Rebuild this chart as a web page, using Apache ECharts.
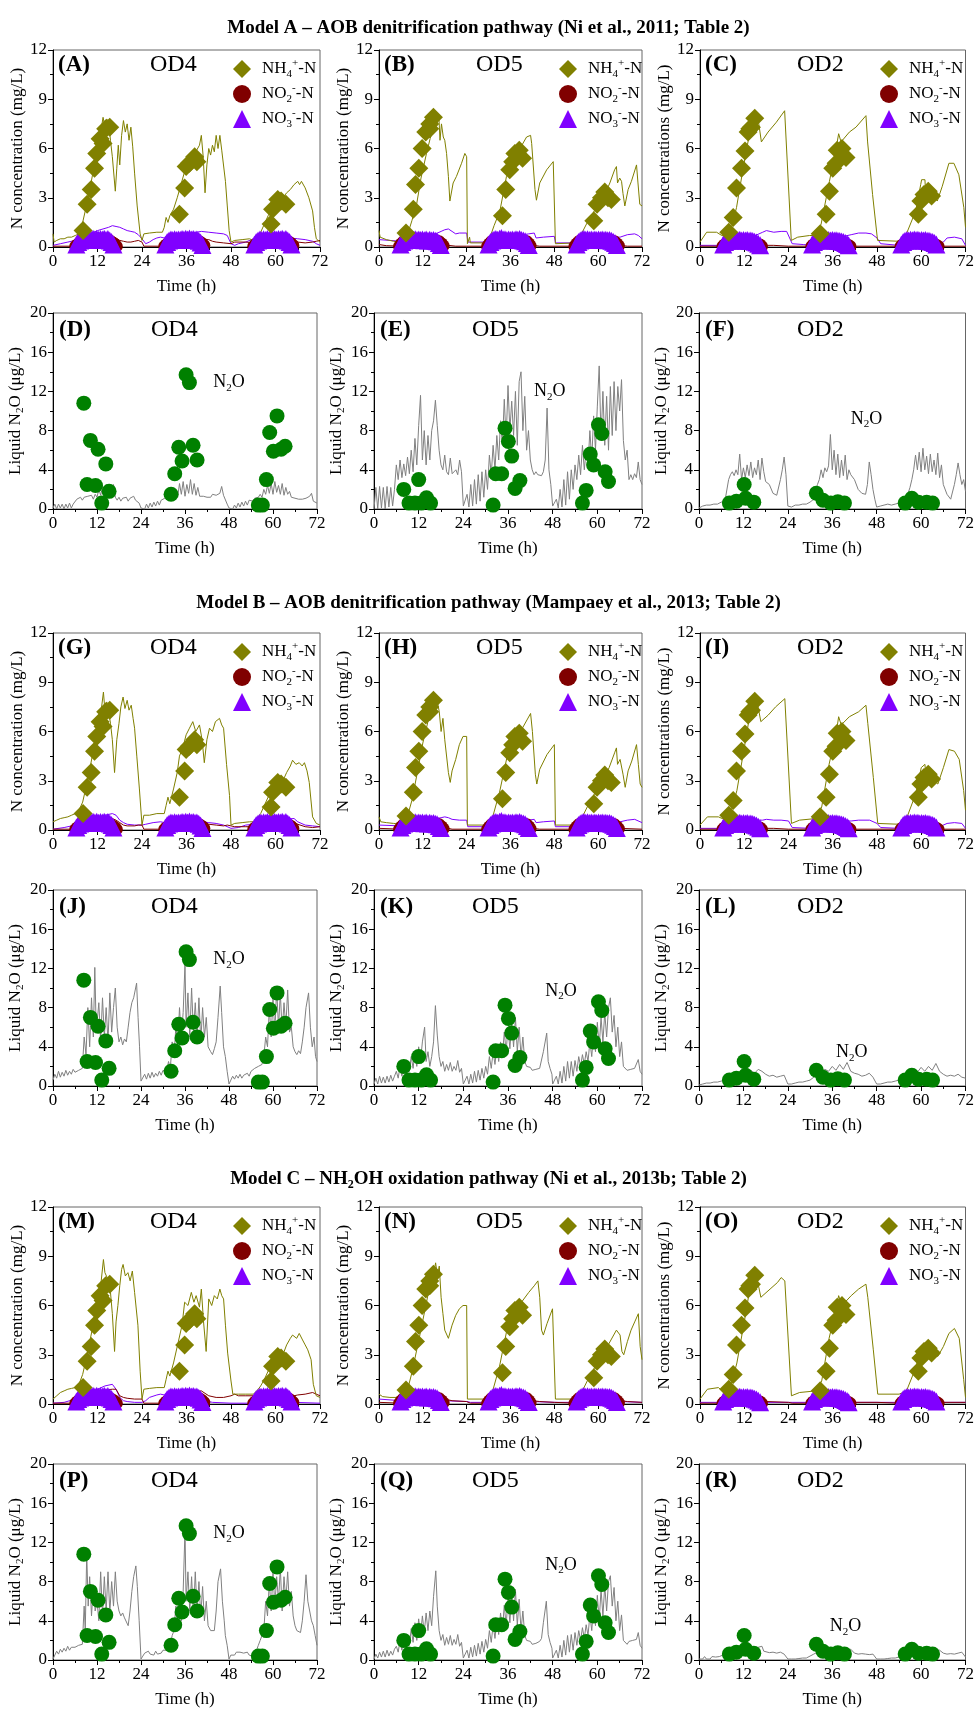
<!DOCTYPE html>
<html>
<head>
<meta charset="utf-8">
<script src="https://cdn.jsdelivr.net/npm/echarts@6/dist/echarts.min.js"></script>
<style>
  html, body { margin: 0; padding: 0; background: #fff; }
  #charts { width: 977px; height: 1709px; }
</style>
</head>
<body>
<div id="charts"></div>
<script>
// ---- measured data (flat t,v pairs), shared by all three models ----
const nh4Meas_OD4 = [8.1,1.0, 9.2,2.6, 10.3,3.5, 11.2,4.8, 11.8,5.7, 12.7,6.6, 13.5,6.3, 14.2,7.2, 15.3,7.3,
  34.1,2.0, 35.5,3.6, 35.9,4.9, 36.8,5.1, 38.2,5.5, 38.8,5.2,
  58.8,1.4, 59.2,2.3, 60.6,2.9, 61.5,2.8, 62.8,2.6];
const nh4Meas_OD5 = [7.4,0.85, 9.4,2.3, 10.0,3.8, 10.9,4.8, 11.8,6.0, 12.8,7.0, 13.9,7.2, 13.9,7.5, 14.9,7.9,
  33.8,1.9, 34.7,3.5, 35.8,4.7, 36.6,5.2, 37.2,5.7, 38.4,5.9, 39.3,5.4,
  58.8,1.6, 59.7,2.6, 60.9,3.0, 61.8,3.35, 62.7,3.0, 63.6,2.9];
const nh4Meas_OD2 = [7.8,0.9, 9.0,1.8, 9.9,3.6, 11.25,4.8, 12.2,5.85, 13.05,7.0, 13.5,7.2, 13.95,7.3, 14.85,7.85,
  32.6,0.8, 34.2,2.0, 35.1,3.4, 36.0,4.8, 36.9,5.1, 37.2,5.9, 38.5,6.0, 39.6,5.45,
  59.2,2.0, 59.9,2.8, 60.75,3.2, 61.9,3.4, 62.8,3.1];

const no3Meas_OD4 = [6.3,0.15, 6.8,0.3, 7.3,0.4, 7.8,0.45, 8.3,0.42, 8.8,0.47, 9.3,0.43, 9.8,0.48, 10.3,0.44, 10.8,0.5, 11.3,0.45, 11.8,0.5, 12.3,0.44, 12.8,0.49, 13.3,0.45, 13.8,0.5, 14.3,0.44, 14.8,0.48, 15.3,0.4, 15.8,0.3, 16.3,0.15,
  30.3,0.15, 30.8,0.3, 31.3,0.4, 31.8,0.45, 32.3,0.42, 32.8,0.47, 33.3,0.43, 33.8,0.45, 34.3,0.44, 34.8,0.48, 35.3,0.45, 35.8,0.5, 36.3,0.46, 36.8,0.52, 37.3,0.45, 37.8,0.48, 38.3,0.44, 38.8,0.45, 39.3,0.38, 39.8,0.28, 40.3,0.12,
  54.3,0.15, 54.8,0.3, 55.3,0.4, 55.8,0.45, 56.3,0.42, 56.8,0.47, 57.3,0.43, 57.8,0.48, 58.3,0.44, 58.8,0.5, 59.3,0.45, 59.8,0.48, 60.3,0.44, 60.8,0.49, 61.3,0.45, 61.8,0.5, 62.3,0.44, 62.8,0.48, 63.3,0.4, 63.8,0.3, 64.3,0.15];
const no2Meas_OD4 = [6.0,0.05, 6.5,0.15, 7,0.25, 8,0.35, 10,0.4, 12,0.4, 14,0.4, 15.5,0.35, 16.3,0.25, 16.8,0.15, 17.2,0.05,
  30.0,0.05, 30.5,0.15, 31,0.25, 32,0.35, 34,0.4, 36,0.4, 38,0.4, 39.5,0.35, 40.2,0.25, 40.8,0.1,
  54.0,0.05, 54.5,0.15, 55,0.25, 56,0.35, 58,0.4, 60,0.4, 62,0.4, 63.5,0.35, 64.2,0.25, 64.8,0.1];
const no3Meas_OD5 = [5.9,0.15, 6.4,0.3, 6.9,0.4, 7.4,0.45, 7.9,0.5, 8.4,0.44, 8.9,0.48, 9.4,0.43, 9.9,0.47, 10.4,0.42, 10.9,0.46, 11.4,0.42, 11.9,0.45, 12.4,0.41, 12.9,0.45, 13.4,0.4, 13.9,0.44, 14.4,0.4, 14.9,0.42, 15.4,0.38, 15.9,0.35, 16.4,0.25, 16.9,0.12,
  30.0,0.15, 30.5,0.3, 31,0.4, 31.5,0.45, 32,0.48, 32.5,0.44, 33,0.5, 33.5,0.55, 34,0.45, 34.5,0.47, 35,0.43, 35.5,0.46, 36,0.42, 36.5,0.46, 37,0.43, 37.5,0.47, 38,0.44, 38.5,0.48, 39,0.42, 39.5,0.4, 40,0.35, 40.5,0.25, 41,0.12,
  54.1,0.15, 54.6,0.3, 55.1,0.4, 55.6,0.45, 56.1,0.48, 56.6,0.44, 57.1,0.47, 57.6,0.43, 58.1,0.46, 58.6,0.42, 59.1,0.45, 59.6,0.42, 60.1,0.46, 60.6,0.43, 61.1,0.45, 61.6,0.42, 62.1,0.44, 62.6,0.41, 63.1,0.42, 63.6,0.38, 64.1,0.32, 64.6,0.25, 65.1,0.12];
const no2Meas_OD5 = [5.5,0.05, 6,0.2, 6.5,0.3, 7,0.4, 8,0.45, 10,0.48, 12,0.48, 14,0.45, 15.5,0.42, 16.5,0.35, 17.2,0.22, 17.7,0.08,
  29.6,0.05, 30.1,0.2, 30.6,0.3, 31.1,0.4, 32,0.45, 34,0.48, 36,0.48, 38,0.45, 39.5,0.42, 40.5,0.35, 41.1,0.22, 41.5,0.08,
  53.5,0.05, 54,0.2, 54.5,0.3, 55,0.4, 56,0.45, 58,0.48, 60,0.48, 62,0.45, 63.5,0.42, 64.5,0.35, 65.2,0.22, 65.7,0.08];
const no3Meas_OD2 = [6.3,0.15, 6.8,0.3, 7.3,0.38, 7.8,0.42, 8.3,0.4, 8.8,0.43, 9.3,0.4, 9.8,0.44, 10.3,0.41, 10.8,0.44, 11.3,0.4, 11.8,0.43, 12.3,0.4, 12.8,0.42, 13.3,0.38, 13.8,0.4, 14.3,0.36, 14.8,0.32, 15.3,0.28, 15.8,0.2, 16.3,0.1,
  30.4,0.15, 30.9,0.3, 31.4,0.38, 31.9,0.42, 32.4,0.48, 32.9,0.44, 33.4,0.42, 33.9,0.44, 34.4,0.4, 34.9,0.43, 35.4,0.4, 35.9,0.42, 36.4,0.39, 36.9,0.41, 37.4,0.38, 37.9,0.36, 38.4,0.33, 38.9,0.3, 39.4,0.25, 39.9,0.18, 40.3,0.1,
  54.6,0.15, 55.1,0.3, 55.6,0.38, 56.1,0.42, 56.6,0.4, 57.1,0.44, 57.6,0.41, 58.1,0.45, 58.6,0.42, 59.1,0.44, 59.6,0.4, 60.1,0.43, 60.6,0.4, 61.1,0.42, 61.6,0.38, 62.1,0.38, 62.6,0.34, 63.1,0.3, 63.6,0.24, 64.1,0.15];
const no2Meas_OD2 = [6.1,0.05, 6.6,0.15, 7.2,0.25, 8,0.3, 10,0.32, 12,0.3, 14,0.28, 15.5,0.22, 16.3,0.15, 16.8,0.05,
  30.2,0.05, 30.7,0.15, 31.3,0.25, 32,0.3, 34,0.32, 36,0.3, 38,0.28, 39.5,0.2, 40.3,0.12, 40.8,0.04,
  54.4,0.05, 54.9,0.15, 55.5,0.25, 56,0.3, 58,0.32, 60,0.3, 62,0.28, 63.5,0.2, 64.2,0.12, 64.7,0.04];

const n2oMeas_OD4 = [8.4,10.8, 9.3,2.5, 10.2,7.0, 11.6,2.4, 12.3,6.1, 13.3,0.6, 14.4,4.6, 15.3,1.8,
  32.2,1.5, 33.2,3.6, 34.3,6.3, 35.2,4.9, 36.3,13.7, 37.2,12.9, 38.2,6.5, 39.3,5.0,
  56.0,0.4, 57.1,0.4, 58.2,3.0, 59.1,7.8, 60.1,5.9, 61.1,9.5, 62.2,6.1, 63.3,6.4];
const n2oMeas_OD5 = [8.0,2.0, 9.4,0.6, 11.0,0.6, 12.0,3.0, 12.7,0.6, 14.1,1.15, 15.2,0.6,
  32.0,0.4, 32.7,3.6, 34.3,3.6, 35.2,8.25, 36.1,6.9, 37.0,5.4, 37.9,2.1, 39.2,2.9,
  56.0,0.6, 57.0,1.9, 58.1,5.6, 59.0,4.5, 60.3,8.6, 61.2,7.7, 62.1,3.8, 63.0,2.8];
const n2oMeas_OD2 = [8.2,0.6, 10.1,0.8, 12.2,2.5, 12.6,1.1, 14.8,0.7,
  31.7,1.6, 33.5,0.9, 35.6,0.6, 37.5,0.75, 39.3,0.6,
  55.7,0.6, 57.5,1.1, 59.3,0.7, 61.5,0.7, 63.1,0.6];

// ---- simulated N species (flat t,v pairs) ----
const simA_NH4 = [0,0.8, 0.3,0.3, 1,0.4, 2,0.5, 3,0.5, 4,0.6, 5,0.6, 6,0.7, 7,0.8, 8,1.5, 9,2.5, 10,3.6, 11,4.8, 12,5.8, 12.5,6.6, 13,7.2, 13.5,7.9, 14,7.3, 14.5,7.8, 15,7.6, 15.5,6.5, 16,5.5, 16.8,3.4, 17.2,4.8, 17.6,6.2, 18,5.0, 18.5,6.8, 19,7.7, 19.5,7.0, 20,7.5, 20.5,6.5, 21,7.3, 21.5,6.1, 22,4.5, 22.7,2.5, 23.5,0.8, 24,0.4, 24.5,0.8, 26,0.85, 28,0.9, 29.5,0.9, 30,1.2, 30.5,1.8, 31,1.5, 31.5,1.9, 32.5,2.3, 33.5,3.0, 34.5,3.8, 35.5,4.6, 36.5,5.0, 37.5,5.3, 38.5,5.8, 39.5,6.2, 40,6.8, 40.5,5.5, 41,3.3, 41.5,5.0, 42,6.0, 42.5,5.6, 43,6.2, 43.5,5.8, 44,6.8, 44.5,6.0, 45,6.8, 45.5,5.9, 46,5.8, 46.5,4.0, 47,2.5, 47.5,1.0, 48,0.3, 49,0.4, 51,0.45, 53,0.5, 54,0.4, 55,0.6, 56,0.9, 57,1.4, 58,1.9, 59,2.3, 60,2.8, 61,2.5, 62,3.0, 63,3.3, 64,3.5, 65,3.8, 66,4.0, 66.5,3.8, 67,4.0, 68,3.6, 69,3.0, 70,2.2, 70.5,1.2, 71,0.5, 72,0.3];
const simA_NO2 = [0,0.05, 6,0.05, 7,0.4, 8,0.7, 12,0.8, 16,0.7, 17,0.55, 18,0.4, 19,0.35, 20,0.3, 21,0.3, 22,0.35, 23,0.4, 24,0.3, 24.5,0.05, 29,0.05, 30,0.2, 32,0.5, 36,0.7, 40,0.6, 41,0.45, 42,0.45, 43,0.35, 44,0.3, 46,0.25, 48,0.2, 49,0.3, 52,0.3, 54,0.25, 56,0.5, 60,0.7, 64,0.5, 65,0.35, 66,0.3, 68,0.25, 70,0.3, 71,0.35, 72,0.4];
const simA_NO3 = [0,0.1, 2,0.2, 4,0.3, 6,0.4, 9,0.7, 12,1.0, 15,1.2, 16,1.3, 16.5,1.4, 17,1.25, 18,1.2, 19,1.1, 20,1.0, 21,0.95, 22,0.9, 23,0.75, 24,0.5, 25,0.2, 26,0.3, 27,0.45, 28,0.55, 29,0.6, 30,0.55, 32,0.6, 36,0.8, 40,0.95, 42,0.9, 44,0.85, 46,0.8, 47,0.7, 48,0.2, 49,0.1, 50,0.2, 52,0.3, 54,0.5, 58,0.6, 62,0.6, 64,0.55, 66,0.5, 68,0.45, 70,0.35, 71,0.2, 72,0.1];

const simB_NH4 = [0,1.0, 0.3,0.6, 2,0.45, 4,0.35, 5.7,0.3, 7.6,0.6, 9,1.6, 10.3,2.6, 11.5,4.2, 13,5.7, 14,6.6, 14.9,7.2, 15.8,7.5, 16.4,7.9, 16.7,6.5, 17.1,7.5, 17.6,6.7, 18,6.5, 18.5,5.7, 19,4.3, 19.4,2.8, 20.3,3.9, 21.2,4.3, 22.6,5.1, 23.5,5.7, 24,5.5, 24.2,0.2, 24.8,0.6, 25,0.25, 30,0.25, 30.4,0.6, 31.5,1.3, 33.1,2.2, 34.9,4.3, 36.7,5.3, 38.6,6.0, 40.4,6.7, 41.5,6.8, 41.8,6.3, 42.7,3.5, 43.1,2.85, 44,3.9, 45.9,4.7, 47.7,5.2, 48.1,5.2, 48.3,0.2, 54,0.25, 54.5,0.4, 56.8,1.4, 59.5,2.4, 61.4,3.0, 63.2,3.9, 64.5,4.7, 65,4.9, 65.3,3.9, 65.9,4.2, 66.4,4.0, 66.8,3.25, 67.3,2.5, 68.2,3.5, 69.1,4.0, 70.5,5.0, 70.9,3.9, 71.4,2.6, 72,2.5];
const simB_NO2 = [0,0.15, 2,0.08, 6,0.05, 8,0.5, 12,0.8, 16,0.6, 17,0.4, 18,0.2, 19,0.1, 21,0.05, 24,0.05, 30,0.05, 32,0.4, 36,0.7, 40,0.5, 41,0.3, 42,0.1, 44,0.05, 54,0.05, 56,0.4, 60,0.7, 64,0.5, 65,0.3, 66,0.1, 68,0.05, 72,0.05];
const simB_NO3 = [0,0.45, 3,0.4, 6,0.35, 10,0.5, 14,0.7, 16,0.85, 17,0.95, 18,1.05, 19,1.1, 20,0.95, 21,0.8, 22,0.85, 24,0.85, 24.3,0.3, 30,0.3, 34,0.5, 38,0.7, 41,0.8, 42.5,0.85, 43,0.55, 45,0.6, 48,0.65, 48.3,0.25, 54,0.25, 58,0.4, 62,0.5, 64,0.6, 66,0.6, 68,0.75, 70,0.8, 71,0.7, 72,0.5];

const simC_NH4 = [0,0.3, 1.8,0.9, 4.5,0.9, 5.9,0.7, 8.1,0.8, 9.9,2.4, 11.7,4.8, 13.5,7.0, 14.4,7.8, 15.3,8.0, 15.75,7.8, 16.65,6.4, 18.45,7.0, 20.7,7.6, 22.95,8.3, 23.2,8.3, 24.75,0.4, 26.5,0.6, 29.7,0.7, 31.5,0.7, 32.85,1.4, 35.1,4.0, 36.9,6.0, 37.6,6.9, 38.25,6.4, 40.5,7.0, 42.3,7.3, 45,8.0, 45.45,6.4, 46.8,3.2, 48.15,0.4, 54,0.35, 55.8,0.7, 58.5,2.2, 59.85,3.8, 60.1,4.1, 61,4.1, 61.2,3.2, 63,3.2, 64.35,2.8, 65.7,3.7, 67.5,5.1, 68.85,5.1, 70.2,4.4, 71.55,2.4, 72,1.2];
const simC_NO2 = [0,0.05, 6,0.05, 8,0.4, 12,0.7, 16,0.5, 17,0.25, 18,0.1, 20,0.1, 24,0.05, 30,0.05, 32,0.4, 36,0.6, 40,0.4, 41,0.2, 42,0.05, 54,0.05, 56,0.4, 60,0.6, 64,0.4, 65,0.15, 66,0.05, 72,0.05];
const simC_NO3 = [0,0.1, 6,0.1, 10,0.3, 14,0.6, 16,0.8, 17,0.9, 18,1.0, 19,0.95, 20,0.9, 22,0.95, 23.5,0.95, 24,0.85, 25,0.2, 28,0.15, 30,0.1, 34,0.3, 38,0.6, 41,0.75, 43,0.85, 45,0.85, 46.5,0.8, 48,0.55, 49,0.2, 54,0.1, 58,0.2, 62,0.2, 64,0.2, 66,0.3, 67,0.55, 69,0.6, 71,0.5, 72,0.1];

const simG_NH4 = [0,0.5, 1,0.6, 2,0.7, 3,0.75, 4,0.8, 5,0.9, 6,1.0, 7,1.2, 8,1.7, 9,2.7, 10,3.8, 11,5.0, 12,6.0, 12.5,6.8, 13,7.3, 13.6,8.4, 14,7.3, 14.5,7.8, 15,7.2, 15.5,6.5, 16,5.5, 16.6,3.5, 17.2,5.5, 17.8,6.5, 18.3,7.5, 18.9,8.1, 19.4,7.4, 20,7.9, 20.5,7.3, 21.1,7.6, 21.6,6.8, 22,6.2, 22.6,4.5, 23.3,2.5, 24,0.3, 24.5,0.9, 26,0.9, 28,1.0, 30,1.0, 30.5,1.5, 31,2.0, 31.5,1.6, 32.5,2.5, 33.5,3.5, 34.1,4.5, 35,5.0, 35.9,5.8, 36.8,6.2, 37.7,6.6, 38.5,6.0, 39.5,6.4, 40.2,5.5, 40.8,4.1, 41.5,5.5, 42.2,6.2, 43,6.0, 43.8,6.6, 44.9,6.8, 45.5,6.4, 46,6.2, 46.8,4.0, 47.6,2.1, 48,0.3, 49,0.4, 51,0.45, 53,0.5, 54,0.5, 55,0.7, 56,1.0, 57,1.5, 58,2.0, 59,2.4, 60,2.8, 61,2.6, 62,3.0, 63,3.5, 64,3.9, 64.6,4.25, 65.5,4.0, 66.4,4.1, 67.2,3.9, 67.8,4.1, 68.5,3.6, 69.1,2.9, 70,0.8, 71,0.4, 72,0.3];
const simG_NO2 = [0,0.05, 6,0.05, 8,0.5, 12,0.7, 16,0.7, 17,0.6, 18,0.45, 19,0.3, 20,0.25, 22,0.25, 23,0.3, 24,0.3, 24.5,0.05, 29,0.05, 31,0.3, 36,0.6, 40,0.55, 41,0.5, 42,0.35, 44,0.3, 46,0.25, 47,0.3, 48,0.25, 49,0.2, 52,0.2, 54,0.2, 57,0.5, 62,0.6, 65,0.5, 66,0.35, 68,0.2, 70,0.15, 72,0.2];
const simG_NO3 = [0,0.05, 3,0.15, 6,0.3, 10,0.6, 14,0.9, 16,1.0, 17,0.9, 18,0.6, 19,0.45, 20,0.35, 22,0.3, 24,0.3, 25,0.35, 27,0.45, 29,0.5, 30,0.45, 34,0.5, 38,0.55, 40,0.5, 42,0.45, 44,0.4, 46,0.3, 48,0.1, 50,0.15, 52,0.3, 54,0.35, 58,0.5, 62,0.65, 65,0.7, 66,0.5, 68,0.3, 70,0.25, 72,0.2];

const simH_NH4 = [0,0.8, 0.5,0.5, 2,0.45, 4,0.4, 6,0.35, 7.5,0.6, 9,1.8, 10.5,3.5, 12,5.3, 13.5,6.7, 14.5,7.5, 15,7.9, 15.5,7.5, 16,7.8, 16.5,7.2, 17,6.0, 17.5,6.8, 18,5.5, 19,3.5, 19.5,2.9, 20,3.6, 21,4.3, 22,5.2, 23,5.7, 24,5.7, 24.2,0.3, 30,0.3, 31,0.7, 33,2.3, 35,4.4, 37,5.5, 39,6.1, 40.5,6.7, 41.5,7.1, 42,6.0, 42.8,3.4, 43.2,2.8, 44,3.7, 46,4.6, 48,5.2, 48.3,0.3, 54,0.3, 55,0.5, 57,1.4, 59.5,2.4, 61.5,3.1, 63,3.8, 64.5,4.7, 65,5.0, 65.3,4.0, 66,4.3, 66.8,3.4, 67.4,2.6, 68.2,3.6, 69.2,4.2, 70.5,5.2, 71,4.0, 71.5,2.8, 72,2.6];
const simH_NO2 = [0,0.1, 6,0.05, 8,0.5, 12,0.8, 16,0.6, 17,0.35, 18,0.15, 20,0.05, 30,0.05, 32,0.4, 36,0.7, 40,0.5, 41,0.3, 42,0.1, 44,0.05, 54,0.05, 56,0.4, 60,0.7, 64,0.5, 65,0.3, 66,0.1, 72,0.05];
const simH_NO3 = [0,0.3, 6,0.25, 10,0.4, 14,0.6, 16,0.7, 17,0.75, 18,0.8, 19,0.75, 20,0.65, 22,0.6, 24,0.6, 24.3,0.2, 30,0.2, 34,0.4, 38,0.55, 41,0.6, 42.5,0.65, 43,0.45, 45,0.5, 48,0.55, 48.3,0.2, 54,0.2, 58,0.35, 62,0.45, 64,0.5, 66,0.5, 68,0.6, 70,0.65, 72,0.45];

const simI_NH4 = [0,0.3, 2,0.8, 5,0.8, 6,0.7, 8,0.8, 10,2.4, 12,5.0, 13.5,7.0, 15,8.0, 15.5,7.8, 16.5,6.6, 18.5,7.0, 20.5,7.5, 23,8.0, 23.3,8.0, 24.8,0.4, 27,0.6, 31.5,0.7, 33,1.4, 35,4.0, 37,6.0, 37.6,6.9, 38.3,6.4, 40.5,6.9, 43,7.2, 45,7.6, 45.5,6.5, 47,3.2, 48.2,0.4, 54,0.35, 56,0.7, 58.5,2.2, 60,3.8, 61,4.0, 61.3,3.1, 63,3.1, 64.5,2.8, 66,3.8, 67.5,4.9, 69,4.8, 70.3,4.3, 71.5,2.4, 72,1.2];
const simI_NO2 = [0,0.05, 6,0.05, 8,0.4, 12,0.7, 16,0.5, 17,0.25, 18,0.1, 20,0.1, 24,0.05, 30,0.05, 32,0.4, 36,0.6, 40,0.4, 41,0.2, 42,0.05, 54,0.05, 56,0.4, 60,0.6, 64,0.4, 65,0.15, 66,0.05, 72,0.05];
const simI_NO3 = [0,0.1, 6,0.1, 10,0.3, 14,0.5, 16,0.6, 17,0.6, 18,0.65, 20,0.6, 22,0.6, 24,0.55, 25,0.15, 30,0.1, 34,0.3, 38,0.5, 41,0.55, 43,0.6, 46,0.6, 48,0.4, 49,0.15, 54,0.1, 58,0.2, 62,0.2, 65,0.2, 67,0.4, 69,0.45, 71,0.4, 72,0.1];

const simM_NH4 = [0,0.3, 1,0.5, 2,0.7, 3,0.8, 4,0.9, 5,0.95, 6,1.0, 7,1.2, 8,1.8, 9,2.8, 10,3.9, 11,5.0, 12,6.0, 12.5,6.8, 13,7.5, 13.6,8.8, 14,8.0, 14.4,8.0, 15,7.5, 15.5,6.8, 16,5.5, 16.6,3.2, 17,5.0, 17.5,6.0, 18,7.2, 18.5,8.2, 18.9,8.5, 19.5,7.8, 20.2,8.0, 20.8,7.5, 21.4,8.1, 22,6.8, 22.9,4.8, 23.5,2.0, 24,0.3, 24.5,0.9, 26,0.95, 28,1.0, 30,1.0, 30.5,1.5, 31,2.0, 31.5,1.7, 32.5,2.5, 33.5,3.5, 34.8,4.8, 35.5,6.2, 36.4,6.0, 37.3,6.8, 38,6.2, 38.6,6.6, 39.5,5.9, 40,7.0, 40.6,5.0, 41.3,3.2, 42,6.4, 42.8,6.0, 43.5,6.6, 44.3,6.4, 45,7.0, 45.5,6.6, 46,6.4, 46.5,4.8, 47.1,3.1, 48,1.4, 48.5,0.6, 50,0.6, 52,0.6, 54,0.6, 55,0.8, 56,1.1, 57,1.5, 58,2.0, 59,2.4, 60,2.8, 61,2.6, 62,3.0, 63,3.6, 64,4.0, 64.6,4.2, 65,4.3, 65.7,4.0, 66.4,4.3, 67.3,3.9, 68,3.6, 68.7,3.3, 69.6,2.7, 70.2,1.2, 71,0.5, 72,0.4];
const simM_NO2 = [0,0.05, 6,0.05, 8,0.5, 12,0.8, 16,0.9, 17,0.9, 18,0.5, 19,0.4, 20,0.35, 22,0.3, 24,0.3, 24.5,0.05, 30,0.05, 32,0.4, 36,0.7, 40,0.8, 41,0.65, 42,0.5, 44,0.4, 46,0.4, 48,0.5, 49,0.6, 50,0.5, 52,0.5, 54,0.5, 56,0.6, 60,0.7, 64,0.6, 65,0.5, 66,0.55, 68,0.6, 70,0.7, 71,0.6, 72,0.5];
const simM_NO3 = [0,0.05, 3,0.1, 6,0.3, 10,0.7, 14,1.1, 16,1.2, 17,0.9, 18,0.4, 19,0.2, 20,0.15, 22,0.1, 24,0.1, 25,0.2, 26,0.4, 28,0.55, 29,0.6, 30,0.55, 34,0.6, 38,0.6, 40,0.5, 41,0.3, 42,0.15, 43,0.1, 48,0.05, 54,0.05, 58,0.1, 62,0.1, 65,0.1, 72,0.05];

const simN_NH4 = [0,0.6, 1,0.45, 3,0.4, 6,0.4, 7.5,0.6, 9,1.9, 11,4.0, 13,6.2, 14,7.3, 15,8.0, 15.5,8.6, 16,7.8, 16.5,8.4, 17,6.5, 17.5,5.5, 18,4.5, 19,4.0, 20,4.8, 21,5.4, 22,5.8, 23,6.0, 24,6.0, 24.2,0.3, 30,0.3, 31,0.7, 33,2.3, 35,4.5, 37,5.6, 39,6.2, 41,6.8, 42.5,7.2, 43.5,7.5, 44,6.5, 44.5,4.5, 45,4.2, 46,4.9, 47.5,5.8, 48,5.9, 48.3,0.3, 54,0.3, 55,0.5, 57,1.4, 59.5,2.4, 61.5,3.1, 63,3.7, 65,4.5, 66,4.2, 66.5,3.2, 67,3.0, 68,3.8, 69,4.5, 70,5.0, 71,5.5, 71.5,3.5, 72,2.7];
const simN_NO2 = [0,0.1, 6,0.05, 8,0.5, 12,0.8, 16,0.7, 17,0.5, 18,0.3, 20,0.2, 24,0.15, 25,0.05, 30,0.05, 32,0.4, 36,0.7, 40,0.6, 41,0.4, 42,0.2, 44,0.15, 48,0.1, 54,0.05, 56,0.4, 60,0.7, 64,0.6, 65,0.4, 66,0.2, 68,0.15, 72,0.1];
const simN_NO3 = [0,0.3, 6,0.2, 10,0.4, 14,0.5, 16,0.45, 17,0.3, 18,0.2, 24,0.15, 25,0.1, 30,0.1, 34,0.3, 38,0.45, 41,0.3, 42,0.15, 48,0.1, 54,0.1, 58,0.3, 62,0.45, 65,0.3, 66,0.15, 72,0.1];

const simO_NH4 = [0,0.3, 2,0.9, 5,1.0, 6,0.8, 8,0.8, 10,2.5, 12,5.0, 13.5,7.0, 15,7.8, 15.5,7.6, 16.5,6.5, 19,7.0, 21,7.4, 22,7.7, 23,7.5, 24.8,0.5, 27,0.7, 31.5,0.8, 33,1.4, 35,4.0, 37,5.9, 37.6,6.6, 38.5,6.0, 41,6.6, 43,7.0, 45,7.3, 45.5,6.5, 47,3.3, 48.2,0.6, 54,0.6, 56,0.8, 58.5,2.2, 60,3.5, 61,3.6, 61.3,3.0, 63,3.1, 64.5,2.9, 66,3.5, 67.5,4.3, 69,4.6, 70.3,4.0, 71.5,1.5, 72,0.4];
const simO_NO2 = [0,0.05, 6,0.05, 8,0.4, 12,0.7, 16,0.5, 17,0.25, 18,0.15, 24,0.1, 25,0.05, 30,0.05, 32,0.4, 36,0.6, 40,0.4, 41,0.2, 42,0.1, 48,0.1, 54,0.05, 56,0.4, 60,0.6, 64,0.4, 65,0.2, 66,0.1, 72,0.1];
const simO_NO3 = [0,0.1, 6,0.1, 10,0.3, 14,0.4, 16,0.3, 17,0.15, 18,0.1, 24,0.1, 30,0.1, 34,0.3, 38,0.35, 41,0.2, 42,0.1, 54,0.1, 58,0.3, 62,0.35, 65,0.2, 66,0.1, 72,0.1];

// ---- simulated liquid N2O (flat t,v pairs) ----
const simD_N2O = [0,0.1, 0.5,0.5, 1,0, 1.5,0.5, 2,0.1, 2.5,0.5, 3,0, 3.5,0.5, 4,0.1, 4.5,0.6, 5,0.1, 5.5,0.5, 6,0.6, 6.5,1.0, 7,0.8, 7.5,1.2, 8,0.9, 8.5,1.2, 9,1.0, 9.5,1.3, 10,1.1, 10.5,1.4, 11,1.0, 11.5,1.5, 12,1.2, 12.5,2.0, 13,1.4, 13.5,2.3, 14,1.6, 14.5,2.5, 15,1.5, 15.5,2.4, 16,1.4, 16.5,2.5, 17,1.2, 17.5,0.9, 18,1.2, 18.5,0.8, 19,1.1, 19.5,1.0, 20,1.2, 20.5,0.8, 21,1.1, 21.5,1.0, 22,1.3, 22.5,0.9, 23,1.0, 23.5,0.6, 24,0.1, 24.5,0.3, 25,0, 25.5,0.5, 26,0.1, 26.5,0.6, 27,0.2, 27.5,0.7, 28,0.3, 28.5,0.8, 29,0.4, 29.5,0.9, 30,0.8, 30.5,1.1, 31,0.9, 31.5,1.2, 32,1.0, 32.5,1.6, 33,1.3, 33.5,1.8, 34,1.2, 34.5,2.6, 35,1.5, 35.5,2.8, 36,1.3, 36.5,2.5, 37,1.6, 37.5,3.0, 38,1.5, 38.5,2.6, 39,1.4, 39.5,2.2, 40,1.3, 40.5,1.5, 41,1.3, 41.5,1.5, 42,1.2, 42.5,1.4, 43,1.2, 43.5,1.5, 44,1.3, 44.5,1.4, 45,1.3, 45.5,1.6, 46,2.3, 46.5,1.4, 47,1.2, 47.5,0.5, 48,0.1, 48.5,0.2, 49,0, 49.5,0.4, 50,0.1, 50.5,0.6, 51,0.2, 51.5,0.7, 52,0.3, 52.5,0.8, 53,0.4, 53.5,0.9, 54,1.0, 54.5,0.8, 55,1.1, 55.5,1.0, 56,1.2, 56.5,1.5, 57,1.2, 57.5,2.0, 58,1.5, 58.5,2.4, 59,1.6, 59.5,2.6, 60,1.5, 60.5,2.8, 61,1.7, 61.5,2.4, 62,1.5, 62.5,2.6, 63,1.4, 63.5,2.2, 64,1.5, 64.5,1.8, 65,1.2, 65.5,1.0, 66,1.1, 66.5,0.9, 67,1.0, 67.5,0.8, 68,1.0, 68.5,0.9, 69,1.1, 69.5,0.9, 70,1.3, 70.5,1.6, 71,0.8, 71.5,0.7, 72,0.6];
const simE_N2O = [0,0, 0.5,2.2, 1,0, 1.5,2.3, 2,0.1, 2.5,2.2, 3,0, 3.5,2.3, 4,0.2, 4.5,2.2, 5,0.3, 5.5,2.0, 6,4.5, 6.5,3.0, 7,5.0, 7.5,3.2, 8,4.6, 8.5,3.4, 9,5.3, 9.5,3.6, 10,6.0, 10.5,3.8, 11,7.2, 11.5,4.5, 12,8.5, 12.5,11.6, 13,5.0, 13.5,8.0, 14,4.5, 14.5,7.5, 15,5.0, 15.5,8.0, 16,9.0, 16.5,11.1, 17,8.5, 17.5,6.0, 18,4.5, 18.5,4.0, 19,5.5, 19.5,3.8, 20,3.5, 20.5,5.2, 21,3.6, 21.5,3.4, 22,4.0, 22.5,3.5, 23,5.0, 23.5,3.8, 24,0.3, 24.5,0.1, 25,1.5, 25.5,0.2, 26,2.5, 26.5,0.3, 27,3.0, 27.5,0.5, 28,3.5, 28.5,0.8, 29,3.8, 29.5,1.2, 30,4.0, 30.5,2.0, 31,5.5, 31.5,3.5, 32,6.5, 32.5,4.0, 33,7.5, 33.5,5.0, 34,9.0, 34.5,6.5, 35,11.2, 35.5,7.0, 36,12.6, 36.5,8.0, 37,11.0, 37.5,7.5, 38,12.0, 38.5,6.5, 39,13.0, 39.5,14.0, 40,8.0, 40.5,11.5, 41,6.0, 41.5,8.0, 42,5.0, 42.5,4.0, 43,3.5, 43.5,3.8, 44,3.5, 44.5,3.6, 45,3.4, 45.5,3.8, 46,5.0, 46.5,10.3, 47,4.0, 47.5,2.5, 48,0.3, 48.5,0.1, 49,1.0, 49.5,0.1, 50,2.0, 50.5,0.2, 51,3.0, 51.5,0.4, 52,3.8, 52.5,1.0, 53,4.0, 53.5,2.0, 54,4.5, 54.5,3.0, 55,5.5, 55.5,3.5, 56,6.5, 56.5,4.0, 57,6.0, 57.5,4.5, 58,8.0, 58.5,5.0, 59,9.5, 59.5,6.0, 60,10.5, 60.5,14.6, 61,7.0, 61.5,12.0, 62,6.5, 62.5,11.5, 63,6.0, 63.5,12.5, 64,7.5, 64.5,13.0, 65,8.0, 65.5,12.5, 66,10.0, 66.5,13.2, 67,7.0, 67.5,5.0, 68,6.0, 68.5,3.0, 69,3.5, 69.5,3.0, 70,3.6, 70.5,3.2, 71,4.8, 71.5,3.0, 72,2.5];
const simF_N2O = [0,0.1, 1,0.3, 2,0.4, 3,0.4, 4,0.5, 5,0.5, 6,0.7, 7,0.8, 7.5,0.9, 8,3.0, 8.5,3.5, 9,3.8, 9.5,3.4, 10,4.0, 10.5,3.5, 11,5.6, 11.5,3.0, 12,4.2, 12.5,3.2, 13,4.5, 13.5,3.4, 14,4.8, 14.5,3.2, 15,4.2, 15.5,3.5, 16,5.0, 16.5,3.0, 17,5.2, 17.5,3.8, 18,2.8, 19,2.5, 20,1.6, 21,1.4, 22,3.0, 22.5,4.0, 23,5.3, 23.5,3.5, 24,0.3, 24.5,0.1, 25,0.2, 26,0.4, 27,0.4, 28,0.5, 29,0.5, 30,0.7, 31,1.0, 32,2.5, 32.5,3.0, 33,4.0, 33.5,3.2, 34,4.2, 34.5,3.8, 35,4.4, 35.5,7.6, 36,4.0, 36.5,6.0, 37,3.5, 37.5,5.6, 38,3.2, 38.5,5.0, 39,3.4, 39.5,5.5, 40,3.0, 40.5,4.0, 41,3.5, 41.5,3.4, 42,3.0, 43,2.0, 44,1.6, 45,1.5, 45.5,2.5, 46,4.8, 46.5,3.5, 47,2.0, 47.5,1.0, 48,0.2, 49,0.3, 50,0.4, 51,0.5, 52,0.4, 53,0.5, 54,0.6, 55,0.8, 56,1.0, 57,2.2, 57.5,3.0, 58,4.0, 58.5,5.5, 59,4.0, 59.5,5.8, 60,3.8, 60.5,6.2, 61,4.0, 61.5,5.4, 62,3.6, 62.5,5.6, 63,3.8, 63.5,5.0, 64,3.5, 64.5,5.7, 65,3.2, 65.5,4.5, 66,2.5, 67,1.5, 68,1.0, 69,2.5, 69.5,3.5, 70,4.7, 70.5,3.5, 71,2.5, 71.5,3.0, 72,1.8];
const simJ_N2O = [0,0.6, 0.5,1.2, 1,0.8, 1.5,1.5, 2,0.9, 2.5,1.4, 3,1.0, 3.5,1.6, 4,1.1, 4.5,1.5, 5,1.2, 5.5,1.7, 6,1.4, 6.5,1.5, 7,1.6, 7.5,1.5, 8,1.8, 8.5,5.0, 9,3.2, 9.5,8.0, 10,4.0, 10.5,9.0, 11,5.0, 11.4,12.1, 11.8,5.5, 12.5,8.5, 13,4.5, 13.5,9.0, 14,5.0, 14.5,8.0, 15,4.5, 15.5,9.5, 16,5.5, 16.5,8.0, 17,10.0, 17.5,6.0, 18,4.5, 18.5,5.0, 19,4.2, 19.5,4.8, 20,4.5, 20.5,6.0, 21,7.5, 21.5,8.5, 22,9.0, 22.8,10.5, 23.2,7.0, 23.6,4.0, 24,0.5, 24.5,0.6, 25,1.2, 25.5,0.7, 26,1.3, 26.5,0.8, 27,1.4, 27.5,0.9, 28,1.3, 28.5,1.0, 29,1.5, 29.5,1.1, 30,1.6, 30.5,1.4, 31,1.5, 31.5,2.5, 32,1.8, 32.5,4.5, 33,3.0, 33.5,6.0, 34,4.0, 34.5,8.0, 35,5.0, 35.5,7.5, 36,12.5, 36.3,6.0, 36.8,9.5, 37.3,5.0, 37.8,10.0, 38.3,5.5, 38.8,8.5, 39.3,5.0, 39.8,9.0, 40.3,4.5, 40.8,8.0, 41.3,5.0, 41.8,7.0, 42.3,4.0, 43,3.5, 43.5,3.2, 44,3.8, 44.5,4.5, 45,7.0, 45.6,10.2, 46,7.5, 46.5,4.0, 47,3.0, 47.5,1.5, 48,0.2, 48.5,0.6, 49,1.0, 49.5,0.7, 50,1.1, 50.5,0.8, 51,1.2, 51.5,0.8, 52,1.1, 52.5,0.9, 53,1.3, 53.5,1.0, 54,1.5, 54.5,1.4, 55,1.8, 55.5,1.6, 56,2.0, 56.5,1.8, 57,2.2, 57.5,3.0, 58,5.0, 58.5,4.0, 59,8.0, 59.5,5.0, 60,9.0, 60.5,5.5, 61,10.0, 61.5,6.0, 62,9.5, 62.5,5.5, 63,8.5, 63.5,6.0, 64,9.8, 64.5,5.5, 65,6.0, 65.5,4.0, 66,3.5, 66.5,3.2, 67,3.6, 67.5,3.3, 68,4.5, 68.5,6.0, 69,8.0, 69.7,9.5, 70.2,6.0, 70.7,4.0, 71.2,5.0, 71.6,3.0, 72,2.5];
const simK_N2O = [0,0.2, 0.5,0.8, 1,0.2, 1.5,1.0, 2,0.3, 2.5,0.9, 3,0.3, 3.5,1.0, 4,0.4, 4.5,1.1, 5,0.5, 5.5,1.0, 6,1.5, 6.5,0.8, 7,2.0, 7.5,1.0, 8,2.2, 8.5,1.2, 9,2.5, 9.5,1.5, 10,3.0, 10.5,1.8, 11,3.5, 11.5,2.0, 12,4.0, 12.5,2.5, 13,4.5, 13.6,6.0, 14,2.5, 14.5,3.5, 15,2.0, 15.5,3.0, 16,4.5, 16.5,8.2, 17,5.2, 17.5,3.0, 18,2.0, 18.5,2.5, 19,1.5, 19.5,2.2, 20,1.6, 20.5,2.4, 21,1.5, 21.5,2.0, 22,1.6, 22.5,2.6, 23,1.4, 23.5,1.8, 24,0.2, 24.5,0.1, 25,1.0, 25.5,0.2, 26,1.2, 26.5,0.3, 27,1.5, 27.5,0.4, 28,1.6, 28.5,0.6, 29,1.8, 29.5,0.8, 30,2.0, 30.5,1.2, 31,3.0, 31.5,1.8, 32,3.5, 32.5,2.2, 33,4.0, 33.5,2.5, 34,4.5, 34.5,3.0, 35,5.5, 35.5,3.5, 36,6.0, 36.5,3.8, 37,6.5, 37.5,4.0, 38,7.0, 38.5,3.5, 39,6.0, 39.5,3.0, 40,5.0, 40.5,2.5, 41,2.0, 41.5,1.8, 42,1.9, 42.5,1.6, 43,1.8, 43.5,1.7, 44,1.6, 44.5,1.8, 45,2.0, 45.5,3.5, 46.4,5.4, 46.8,2.5, 47.3,1.8, 47.8,1.2, 48,0.2, 48.5,0.1, 49,1.0, 49.5,0.2, 50,1.5, 50.5,0.3, 51,2.0, 51.5,0.5, 52,2.5, 52.5,0.8, 53,2.5, 53.5,1.0, 54,2.6, 54.5,1.5, 55,3.0, 55.5,2.0, 56,3.2, 56.5,2.2, 57,3.5, 57.5,2.5, 58,4.5, 58.5,3.0, 59,5.5, 59.5,3.5, 60,6.5, 60.5,4.0, 61,7.0, 61.5,4.5, 62,7.5, 62.5,5.0, 63,8.0, 63.5,9.0, 64,5.5, 64.5,7.2, 65,4.0, 65.5,6.0, 66,3.0, 66.5,4.5, 67,2.0, 67.5,1.8, 68,1.6, 68.5,1.8, 69,1.7, 69.5,1.9, 70,1.8, 70.5,2.0, 71,2.7, 71.5,1.5, 72,1.2];
const simL_N2O = [0,0.1, 0.5,0.3, 1,0.2, 1.5,0.35, 2,0.3, 3,0.3, 4,0.4, 5,0.4, 6,0.5, 7,0.6, 8,0.8, 9,1.0, 10,1.1, 11,1.3, 12,1.5, 13,1.2, 14,1.6, 15,1.3, 16,1.7, 17,1.5, 18,1.2, 19,1.0, 20,1.1, 21,0.9, 22,1.0, 23,1.1, 24,0.2, 25,0.2, 26,0.3, 27,0.4, 28,0.4, 29,0.5, 30,0.6, 31,0.9, 32,1.2, 33,1.4, 34,1.7, 35,1.5, 36,2.0, 37,1.6, 38,2.2, 39,1.7, 40,2.4, 41,1.5, 42,1.3, 43,1.2, 44,1.0, 45,1.1, 46,1.3, 47,0.9, 48,0.2, 49,0.2, 50,0.3, 51,0.4, 52,0.4, 53,0.5, 54,0.6, 55,0.8, 56,1.0, 57,1.3, 58,1.6, 59,1.4, 60,1.9, 61,1.5, 62,2.0, 63,1.6, 64,2.3, 65,1.5, 66,1.2, 67,1.0, 68,1.1, 69,1.0, 70,1.2, 71,0.9, 72,0.8];
const simP_N2O = [0,0.1, 0.5,0.3, 1,0.9, 1.5,0.6, 2,1.1, 2.5,0.8, 3,1.2, 3.5,0.9, 4,1.4, 4.5,1.0, 5,1.3, 5.5,1.1, 6,1.3, 6.5,1.4, 7,1.5, 7.5,1.4, 8,1.6, 8.5,5.5, 8.8,3.0, 9.2,10.9, 9.6,5.5, 10,8.5, 10.5,4.5, 11,7.5, 11.5,5.0, 12,6.0, 12.5,4.0, 13,9.0, 13.5,4.5, 14,8.5, 14.5,5.0, 15,9.0, 15.5,4.8, 16,8.0, 16.5,5.5, 17,9.0, 17.5,6.0, 18,5.0, 18.5,4.5, 19,4.8, 19.5,4.3, 20,4.5, 20.5,3.5, 21,5.0, 21.5,7.0, 22,8.5, 22.6,9.6, 23,7.5, 23.5,4.0, 24,0.1, 24.5,0.4, 25,0.7, 25.5,0.5, 26,0.9, 26.5,0.6, 27,0.8, 27.5,0.5, 28,0.9, 28.5,0.6, 29,0.8, 29.5,0.7, 30,1.0, 30.5,0.8, 31,1.0, 31.5,1.1, 32,1.5, 32.5,2.5, 33,3.0, 33.5,5.5, 34,3.5, 34.5,6.0, 35,4.0, 35.5,7.0, 36,13.3, 36.3,6.0, 36.8,9.0, 37.3,5.0, 37.8,8.5, 38.3,4.5, 38.8,9.0, 39.3,5.0, 39.8,8.0, 40.3,4.5, 40.8,7.5, 41.3,4.0, 41.8,6.0, 42.3,3.5, 43,3.0, 43.5,2.8, 44,3.0, 44.5,5.0, 45,8.0, 45.7,9.3, 46.2,6.0, 46.7,4.0, 47,2.5, 47.5,1.5, 48,0.1, 48.5,0.5, 49,0.7, 49.5,0.5, 50,0.8, 50.5,0.6, 51,0.8, 51.5,0.6, 52,0.7, 52.5,0.6, 53,0.8, 53.5,0.5, 54,0.6, 54.5,0.4, 55,0.5, 55.5,1.0, 56,1.5, 56.5,2.0, 57,2.2, 57.5,3.0, 58,6.0, 58.5,4.5, 59,8.0, 59.5,5.0, 60,9.0, 60.5,5.5, 61,8.5, 61.5,6.0, 62,9.4, 62.5,5.0, 63,8.5, 63.5,6.0, 64,9.0, 64.5,5.5, 65,7.0, 65.5,4.5, 66,3.5, 66.5,3.0, 67,3.2, 67.5,2.8, 68,4.0, 68.5,6.0, 69,8.7, 69.5,6.0, 70,5.0, 70.5,4.0, 71,3.5, 71.5,2.5, 72,1.5];
const simQ_N2O = [0,0.1, 0.5,0.6, 1,0.2, 1.5,0.8, 2,0.3, 2.5,0.9, 3,0.3, 3.5,1.0, 4,0.4, 4.5,0.9, 5,0.5, 5.5,1.1, 6,1.4, 6.5,0.8, 7,2.0, 7.5,1.0, 8,2.4, 8.5,1.2, 9,2.6, 9.5,1.5, 10,3.2, 10.5,1.8, 11,3.8, 11.5,2.0, 12,4.2, 12.5,2.5, 13,4.5, 13.5,2.8, 14,4.8, 14.5,3.0, 15,5.0, 15.5,3.5, 16,6.5, 16.6,9.1, 17,5.5, 17.5,3.0, 18,2.0, 18.5,2.6, 19,1.5, 19.5,2.3, 20,1.6, 20.5,2.5, 21,1.5, 21.5,2.1, 22,1.6, 22.5,2.6, 23,1.4, 23.5,1.8, 24,0.2, 24.5,0.1, 25,1.0, 25.5,0.2, 26,1.3, 26.5,0.3, 27,1.5, 27.5,0.4, 28,1.7, 28.5,0.6, 29,1.9, 29.5,0.8, 30,2.1, 30.5,1.2, 31,3.0, 31.5,1.8, 32,3.6, 32.5,2.2, 33,4.2, 33.5,2.6, 34,4.8, 34.5,3.0, 35,5.6, 35.5,3.5, 36,6.2, 36.5,3.8, 37,6.8, 37.5,4.0, 38,7.2, 38.5,3.5, 39,6.2, 39.5,3.0, 40,5.0, 40.5,2.5, 41,2.0, 41.5,1.8, 42,1.9, 42.5,1.6, 43,1.8, 43.5,1.7, 44,1.6, 44.5,1.9, 45,2.2, 45.5,3.8, 46.3,6.0, 46.8,2.6, 47.3,1.8, 47.8,1.2, 48,0.2, 48.5,0.1, 49,1.0, 49.5,0.2, 50,1.5, 50.5,0.3, 51,2.0, 51.5,0.5, 52,2.5, 52.5,0.8, 53,2.6, 53.5,1.0, 54,2.8, 54.5,1.5, 55,3.0, 55.5,2.0, 56,3.3, 56.5,2.2, 57,3.6, 57.5,2.5, 58,4.6, 58.5,3.0, 59,5.6, 59.5,3.5, 60,6.6, 60.5,4.0, 61,7.2, 61.5,4.5, 62,7.6, 62.5,5.0, 63,8.0, 63.5,8.6, 64,5.5, 64.5,7.4, 65,4.0, 65.5,6.0, 66,3.0, 66.5,4.6, 67,2.0, 67.5,1.8, 68,1.6, 68.5,1.9, 69,1.7, 69.5,2.0, 70,1.8, 70.5,2.1, 71,2.8, 71.5,1.5, 72,1.2];
const simR_N2O = [0,0.1, 0.5,0.3, 1,0.1, 1.5,0.35, 2,0.1, 2.5,0.3, 3,0.1, 3.5,0.35, 4,0.15, 4.5,0.3, 5,0.15, 5.5,0.35, 6,0.4, 7,0.6, 8,0.8, 9,0.9, 10,1.0, 11,1.1, 12,1.2, 13,1.1, 14,1.3, 15,1.2, 16,1.3, 17,1.4, 17.5,0.9, 18,0.8, 19,0.75, 20,0.8, 21,0.7, 22,0.8, 23,0.6, 24,0.1, 24.5,0.2, 25,0.1, 25.5,0.3, 26,0.1, 26.5,0.3, 27,0.15, 27.5,0.35, 28,0.2, 28.5,0.3, 29,0.2, 30,0.4, 31,0.6, 32,0.8, 34,1.0, 36,1.1, 38,1.0, 40,1.0, 41,1.1, 42,0.7, 43,0.6, 44,0.65, 45,0.6, 46,0.55, 47,0.6, 48,0.1, 48.5,0.2, 49,0.1, 49.5,0.3, 50,0.1, 50.5,0.3, 51,0.15, 51.5,0.35, 52,0.2, 52.5,0.3, 53,0.2, 54,0.3, 55,0.5, 56,0.7, 58,0.9, 60,1.0, 62,1.0, 64,1.0, 65,1.0, 66,0.7, 67,0.6, 68,0.65, 69,0.6, 70,0.7, 71,0.8, 71.5,0.6, 72,0.3];

// "N2O" text anchor in each N2O panel (t, value)
const n2oLabelPos = { D: [43.7, 12.9], E: [43, 12], F: [41, 9.2], J: [43.7, 12.9], K: [46, 9.7], L: [37, 3.4], P: [43.7, 12.9], Q: [46, 9.7], R: [35.3, 3.4] };

const modelTitles = [
  '{b|Model A – AOB denitrification pathway (Ni et al., 2011; Table 2)}',
  '{b|Model B – AOB denitrification pathway (Mampaey et al., 2013; Table 2)}',
  '{b|Model C – NH}{s|2}{b|OH oxidation pathway (Ni et al., 2013b; Table 2)}'
];
const odNames = ['OD4', 'OD5', 'OD2'];

// ---- layout ----
const FONT = '"Liberation Serif", "Times New Roman", serif';
const OLIVE = '#808000', DRED = '#800000', PURPLE = '#8000ff', GRAY = '#808080', GREEN = '#008000';
const titleTop = [11, 586, 1162];
const nTop = [50, 633, 1207], oTop = [313, 890, 1464];
const nLeft = [53, 379, 700], nWidth = [267, 263, 267];
const oLeft = [53, 374, 699], oWidth = [264, 268, 270];

function pairs(a) {
  const out = [];
  for (let i = 0; i < a.length; i += 2) out.push([a[i], a[i + 1]]);
  return out;
}

const nPanels = [
  { id: 'A', nh4: simA_NH4, no2: simA_NO2, no3: simA_NO3 },
  { id: 'B', nh4: simB_NH4, no2: simB_NO2, no3: simB_NO3 },
  { id: 'C', nh4: simC_NH4, no2: simC_NO2, no3: simC_NO3 },
  { id: 'G', nh4: simG_NH4, no2: simG_NO2, no3: simG_NO3 },
  { id: 'H', nh4: simH_NH4, no2: simH_NO2, no3: simH_NO3 },
  { id: 'I', nh4: simI_NH4, no2: simI_NO2, no3: simI_NO3 },
  { id: 'M', nh4: simM_NH4, no2: simM_NO2, no3: simM_NO3 },
  { id: 'N', nh4: simN_NH4, no2: simN_NO2, no3: simN_NO3 },
  { id: 'O', nh4: simO_NH4, no2: simO_NO2, no3: simO_NO3 }
];
const oPanels = [
  { id: 'D', sim: simD_N2O }, { id: 'E', sim: simE_N2O }, { id: 'F', sim: simF_N2O },
  { id: 'J', sim: simJ_N2O }, { id: 'K', sim: simK_N2O }, { id: 'L', sim: simL_N2O },
  { id: 'P', sim: simP_N2O }, { id: 'Q', sim: simQ_N2O }, { id: 'R', sim: simR_N2O }
];
const measNH4 = [nh4Meas_OD4, nh4Meas_OD5, nh4Meas_OD2];
const measNO2 = [no2Meas_OD4, no2Meas_OD5, no2Meas_OD2];
const measNO3 = [no3Meas_OD4, no3Meas_OD5, no3Meas_OD2];
const measN2O = [n2oMeas_OD4, n2oMeas_OD5, n2oMeas_OD2];

const richSub = {
  n: { fontFamily: FONT, fontSize: 17, color: '#000', lineHeight: 22 },
  s: { fontFamily: FONT, fontSize: 11, color: '#000', lineHeight: 11, verticalAlign: 'bottom' },
  u: { fontFamily: FONT, fontSize: 11, color: '#000', lineHeight: 11, verticalAlign: 'top' }
};
const legendText = {
  NH4: '{n|NH}{s|4}{u|+}{n|-N}',
  NO2: '{n|NO}{s|2}{u|-}{n|-N}',
  NO3: '{n|NO}{s|3}{u|-}{n|-N}'
};

const grids = [], xAxes = [], yAxes = [], series = [], legends = [], graphics = [];
const titles = modelTitles.map((t, i) => ({
  text: t, left: 'center', top: titleTop[i],
  textStyle: {
    rich: {
      b: { fontFamily: FONT, fontSize: 19, fontWeight: 'bold', color: '#000', lineHeight: 24 },
      s: { fontFamily: FONT, fontSize: 12, fontWeight: 'bold', color: '#000', lineHeight: 12, verticalAlign: 'bottom' }
    }
  }
}));

function axisCommon() {
  return {
    type: 'value', min: 0,
    axisLine: { onZero: false, lineStyle: { color: '#000', width: 1 } },
    axisTick: { show: true, length: 5, lineStyle: { color: '#000' } },
    minorTick: { show: true, splitNumber: 2, length: 3, lineStyle: { color: '#000' } },
    axisLabel: { fontFamily: FONT, fontSize: 17, color: '#000' },
    splitLine: { show: false },
    nameLocation: 'middle'
  };
}

function addGrid(left, top, width, height, yMax, yInt, yName) {
  const g = grids.length;
  grids.push({ left, top, width, height, show: true, borderColor: '#666', borderWidth: 1 });
  xAxes.push(Object.assign(axisCommon(), {
    gridIndex: g, max: 72, interval: 12, name: 'Time (h)', nameGap: 31,
    axisLabel: { fontFamily: FONT, fontSize: 17, color: '#000', margin: 6 },
    nameTextStyle: { fontFamily: FONT, fontSize: 17, color: '#000' }
  }));
  yAxes.push(Object.assign(axisCommon(), {
    gridIndex: g, max: yMax, interval: yInt, name: yName, nameGap: 26,
    axisLabel: { fontFamily: FONT, fontSize: 17, color: '#000', margin: 6 },
    nameTextStyle: { fontFamily: FONT, fontSize: 17, color: '#000', rich: richSub }
  }));
  return g;
}

function panelText(x, y, label, od) {
  graphics.push({
    type: 'text', x, y,
    style: { text: '(' + label + ')', fontFamily: FONT, fontSize: 23, fontWeight: 'bold', fill: '#000', verticalAlign: 'middle' }
  });
  graphics.push({
    type: 'text', x: x + 92, y,
    style: { text: od, fontFamily: FONT, fontSize: 24, fill: '#000', verticalAlign: 'middle' }
  });
}

for (let m = 0; m < 3; m++) {
  for (let c = 0; c < 3; c++) {
    // N species panel
    const p = nPanels[m * 3 + c];
    const gl = nLeft[c], gt = nTop[m];
    const yName = c === 2 ? 'N concentrations (mg/L)' : 'N concentration (mg/L)';
    const g = addGrid(gl, gt, nWidth[c], 197, 12, 3, yName);
    series.push(
      { type: 'line', name: 'simNO3', xAxisIndex: g, yAxisIndex: g, data: pairs(p.no3), showSymbol: false, lineStyle: { color: PURPLE, width: 1 }, z: 2 },
      { type: 'line', name: 'simNO2', xAxisIndex: g, yAxisIndex: g, data: pairs(p.no2), showSymbol: false, lineStyle: { color: DRED, width: 1 }, z: 2 },
      { type: 'line', name: 'simNH4', xAxisIndex: g, yAxisIndex: g, data: pairs(p.nh4), showSymbol: false, lineStyle: { color: OLIVE, width: 1 }, z: 2 },
      { type: 'scatter', name: 'NO2', xAxisIndex: g, yAxisIndex: g, data: pairs(measNO2[c]), symbol: 'circle', symbolSize: 12, itemStyle: { color: DRED, opacity: 1 }, z: 3 },
      { type: 'scatter', name: 'NO3', xAxisIndex: g, yAxisIndex: g, data: pairs(measNO3[c]), symbol: 'triangle', symbolSize: 18, itemStyle: { color: PURPLE, opacity: 1 }, z: 3 },
      { type: 'scatter', name: 'NH4', xAxisIndex: g, yAxisIndex: g, data: pairs(measNH4[c]), symbol: 'diamond', symbolSize: 19, itemStyle: { color: OLIVE, opacity: 1 }, z: 4 }
    );
    legends.push({
      left: gl + 175, top: gt + 3, orient: 'vertical', itemWidth: 18, itemHeight: 18, itemGap: 3,
      selectedMode: false,
      data: [
        { name: 'NH4', icon: 'diamond', itemStyle: { color: OLIVE, opacity: 1 } },
        { name: 'NO2', icon: 'circle', itemStyle: { color: DRED, opacity: 1 } },
        { name: 'NO3', icon: 'triangle', itemStyle: { color: PURPLE, opacity: 1 } }
      ],
      formatter: n => legendText[n],
      textStyle: { fontFamily: FONT, fontSize: 17, color: '#000', padding: [0, 0, 0, 6], rich: richSub }
    });
    panelText(gl + 5, gt + 15, p.id, odNames[c]);

    // liquid N2O panel
    const q = oPanels[m * 3 + c];
    const ol = oLeft[c], ot = oTop[m];
    const h = addGrid(ol, ot, oWidth[c], 196, 20, 4, '{n|Liquid N}{s|2}{n|O (μg/L)}');
    series.push(
      { type: 'line', name: 'simN2O', xAxisIndex: h, yAxisIndex: h, data: pairs(q.sim), showSymbol: false, lineStyle: { color: GRAY, width: 1 }, z: 2 },
      { type: 'scatter', name: 'N2O', xAxisIndex: h, yAxisIndex: h, data: pairs(measN2O[c]), symbol: 'circle', symbolSize: 15, itemStyle: { color: GREEN, opacity: 1 }, z: 3 },
      {
        type: 'scatter', name: 'N2Olabel', xAxisIndex: h, yAxisIndex: h, data: [n2oLabelPos[q.id]],
        symbolSize: 0, silent: true, z: 5, itemStyle: { opacity: 1 },
        label: { show: true, opacity: 1, position: 'right', distance: 0, formatter: '{n|N}{s|2}{n|O}', rich: {
          n: { fontFamily: FONT, fontSize: 18, color: '#000', opacity: 1, lineHeight: 22 },
          s: { fontFamily: FONT, fontSize: 11, color: '#000', opacity: 1, lineHeight: 11, verticalAlign: 'bottom' }
        } }
      }
    );
    panelText(ol + 6, ot + 17, q.id, odNames[c]);
  }
}

const chart = echarts.init(document.getElementById('charts'));
chart.setOption({
  animation: false,
  backgroundColor: '#fff',
  title: titles,
  grid: grids,
  xAxis: xAxes,
  yAxis: yAxes,
  legend: legends,
  series: series,
  graphic: graphics
});
window.onresize = function () { chart.resize(); };
</script>
</body>
</html>
